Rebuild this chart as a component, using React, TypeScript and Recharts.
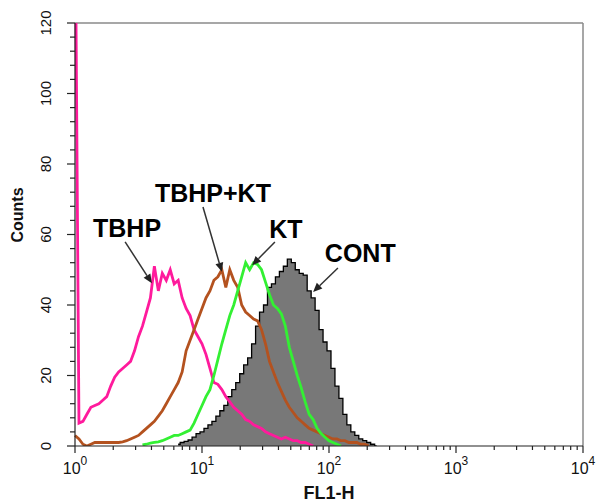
import React from 'react'
import {
  ComposedChart, Area, Line, XAxis, YAxis, ReferenceLine, ReferenceDot,
} from 'recharts'

// FL1-H histogram: 1024 channels over 4 decades, shown in bins of 8 channels
const BIN = 8
const N_BINS = 78
const CH_PER_DECADE = 256

const CONT_START = 26
const CONT = [
  0.5, 1, 1.3, 1.7, 2.5, 3.5, 4, 5, 6, 7, 8.5, 10, 11.5, 14, 16, 18, 20.5, 23, 25, 29,
  34, 38, 40, 45, 46, 48, 49.5, 51, 53, 52, 50, 49, 48.5, 44, 42, 38.5, 33, 29.5, 27, 22,
  17, 13.5, 9, 6, 4, 3, 2, 1.5, 1, 0.5, 0,
]

const KT_START = 17
const KT = [
  0.3, 0.5, 0.8, 1, 1.2, 1.5, 2, 2.5, 3, 3, 3.5, 4, 4.5, 6.5, 9, 11.5, 14, 16, 20, 24.5,
  29, 33, 37, 40, 44, 48, 52, 50, 52, 51.5, 50, 46.5, 43, 40, 39, 37.5, 34, 28, 24, 20,
  16.5, 12.5, 9, 7.5, 5, 3.5, 2.5, 1.5, 1, 0.5, 0,
]

const TBHP_KT_START = 0
const TBHP_KT = [
  3, 2, 0.5, 0, 0.5, 1, 1, 1, 1, 1, 1, 1, 1.2, 1.5, 2, 2.5, 3, 4, 5, 6,
  7, 8.5, 10, 12, 14, 16, 18, 21, 27, 30, 33, 36, 39, 42, 44, 47, 48, 50, 45, 50,
  47, 45, 40, 38, 37, 36, 35.5, 33, 29, 24, 21, 18, 15.5, 13, 11, 9.5, 8, 7, 6, 5,
  4.5, 4, 3.5, 3, 2.5, 2, 2, 1.5, 1.5, 1, 1, 1, 0.5, 0.5, 0,
]

const TBHP_START = 0
const TBHP = [
  160, 6.5, 7, 9, 11, 11.5, 12, 13, 14, 17, 19.5, 21, 22, 23, 24, 27, 31, 34, 38, 42,
  51, 44, 49, 47, 50, 46, 47, 42, 39, 37, 33, 31, 29, 26, 22, 18, 17.5, 16, 14, 12.5,
  11, 10, 9, 7.5, 7, 6, 5.5, 5, 4, 3.5, 3, 2.5, 2, 2.5, 2, 1.5, 1.5, 1, 1, 0.5, 0,
]

const X_DECADES = [1, 10, 100, 1000, 10000]
const X_MINOR = [2, 3, 4, 5, 6, 7, 8, 9]
const Y_MAJOR = [0, 20, 40, 60, 80, 100, 120]
const Y_MINOR_STEP = 4

// annotation labels with their arrows (x in channels, y in counts)
const ANNO_LABELS = ['TBHP', 'TBHP+KT', 'KT', 'CONT']
const ANNO_TEXT_CH = [105, 278, 425, 575]
const ANNO_TEXT_Y = [61.8, 71.8, 61.6, 54.8]
const ARROW_FROM_CH = [101, 258, 403, 530]
const ARROW_FROM_Y = [57.9, 67.8, 57.9, 50.5]
const ARROW_TO_CH = [155, 296, 357, 480]
const ARROW_TO_Y = [46.2, 49.4, 51.3, 43.7]

const FONT = '"Liberation Sans", Arial, sans-serif'

const pick = (arr: number[], start: number, i: number) =>
  i >= start && i - start < arr.length ? arr[i - start] : null

const data = Array.from({ length: N_BINS }, (_, i) => ({
  ch: i * BIN,
  cont: pick(CONT, CONT_START, i),
  kt: pick(KT, KT_START, i),
  tbhpKt: pick(TBHP_KT, TBHP_KT_START, i),
  tbhp: pick(TBHP, TBHP_START, i),
}))

const toChannel = (v: number) => Math.log10(v) * CH_PER_DECADE

const xTicks: number[] = []
X_DECADES.forEach((d, k) => {
  xTicks.push(toChannel(d))
  if (k < X_DECADES.length - 1) X_MINOR.forEach(m => xTicks.push(toChannel(d * m)))
})

const yTicks: number[] = []
for (let v = 0; v <= 120; v += Y_MINOR_STEP) yTicks.push(v)

function XTick({ x, y, payload }: any) {
  const exp = payload.value / CH_PER_DECADE
  const major = Math.abs(exp - Math.round(exp)) < 1e-6
  return (
    <g>
      <line x1={x} y1={y} x2={x} y2={y + (major ? 7 : 4)} stroke="#222" strokeWidth={1.2} />
      {major && (
        <text x={x} y={y + 28} textAnchor="middle" fontSize={16} fill="#111" fontFamily={FONT}>
          10<tspan dy={-9} fontSize={12}>{Math.round(exp)}</tspan>
        </text>
      )}
    </g>
  )
}

function YTick({ x, y, payload }: any) {
  const major = Y_MAJOR.includes(payload.value)
  const lx = x - 30
  return (
    <g>
      <line x1={x - (major ? 8 : 5)} y1={y} x2={x} y2={y} stroke="#222" strokeWidth={1.2} />
      {major && (
        <text
          x={lx} y={y} transform={`rotate(-90 ${lx} ${y})`}
          textAnchor="middle" dominantBaseline="central"
          fontSize={15} fill="#111" fontFamily={FONT}
        >
          {payload.value}
        </text>
      )}
    </g>
  )
}

function Arrow({ x1, y1, x2, y2 }: any) {
  const a = Math.atan2(y2 - y1, x2 - x1)
  const len = 9
  const w = 4
  const bx = x2 - len * Math.cos(a)
  const by = y2 - len * Math.sin(a)
  const px = -Math.sin(a) * w
  const py = Math.cos(a) * w
  return (
    <g>
      <line x1={x1} y1={y1} x2={bx} y2={by} stroke="#333" strokeWidth={1.5} />
      <polygon points={`${x2},${y2} ${bx + px},${by + py} ${bx - px},${by - py}`} fill="#222" />
    </g>
  )
}

function LabelText(label: string) {
  return ({ cx, cy }: any) => (
    <text
      x={cx} y={cy} textAnchor="middle" dominantBaseline="central"
      fontSize={25} fontWeight="bold" fill="#000" fontFamily={FONT}
    >
      {label}
    </text>
  )
}

export default function App() {
  return (
    <div style={{ position: 'absolute', left: 0, top: 0, width: 597, height: 502, background: '#fff' }}>
      <ComposedChart
        width={597}
        height={502}
        data={data}
        margin={{ top: 23, right: 14, bottom: 0, left: 0 }}
      >
        <XAxis
          dataKey="ch"
          type="number"
          domain={[0, 1024]}
          ticks={xTicks}
          interval={0}
          tick={<XTick />}
          tickSize={0}
          tickMargin={0}
          tickLine={false}
          axisLine={{ stroke: '#222', strokeWidth: 1.2 }}
          height={56}
        />
        <YAxis
          type="number"
          domain={[0, 120]}
          allowDataOverflow
          ticks={yTicks}
          interval={0}
          tick={<YTick />}
          tickSize={0}
          tickMargin={0}
          tickLine={false}
          axisLine={{ stroke: '#222', strokeWidth: 1.2 }}
          width={75}
        />
        <ReferenceLine y={120} stroke="#8a8a8a" strokeWidth={1.5} />
        <ReferenceLine x={1024} stroke="#8a8a8a" strokeWidth={1.5} />

        <Area
          dataKey="cont"
          type="step"
          fill="#787878"
          fillOpacity={1}
          stroke="#000"
          strokeWidth={1.3}
          isAnimationActive={false}
          dot={false}
          activeDot={false}
        />
        <Line dataKey="tbhp" type="linear" stroke="#ff1a9c" strokeWidth={2.8} dot={false} isAnimationActive={false} />
        <Line dataKey="tbhpKt" type="linear" stroke="#b4521f" strokeWidth={2.8} dot={false} isAnimationActive={false} />
        <Line dataKey="kt" type="linear" stroke="#33f033" strokeWidth={2.8} dot={false} isAnimationActive={false} />

        {ANNO_LABELS.map((label, i) => (
          <ReferenceLine
            key={`arrow-${label}`}
            segment={[
              { x: ARROW_FROM_CH[i], y: ARROW_FROM_Y[i] },
              { x: ARROW_TO_CH[i], y: ARROW_TO_Y[i] },
            ]}
            shape={<Arrow />}
            ifOverflow="visible"
          />
        ))}
        {ANNO_LABELS.map((label, i) => (
          <ReferenceDot
            key={`text-${label}`}
            x={ANNO_TEXT_CH[i]}
            y={ANNO_TEXT_Y[i]}
            r={0}
            shape={LabelText(label)}
            ifOverflow="visible"
          />
        ))}

        <text
          x={17} y={215} transform="rotate(-90 17 215)"
          textAnchor="middle" dominantBaseline="central"
          fontSize={16} fontWeight="bold" fill="#111" fontFamily={FONT}
        >
          Counts
        </text>
        <text
          x={329} y={499} textAnchor="middle"
          fontSize={18} fontWeight="bold" fill="#111" fontFamily={FONT}
        >
          FL1-H
        </text>
      </ComposedChart>
    </div>
  )
}
